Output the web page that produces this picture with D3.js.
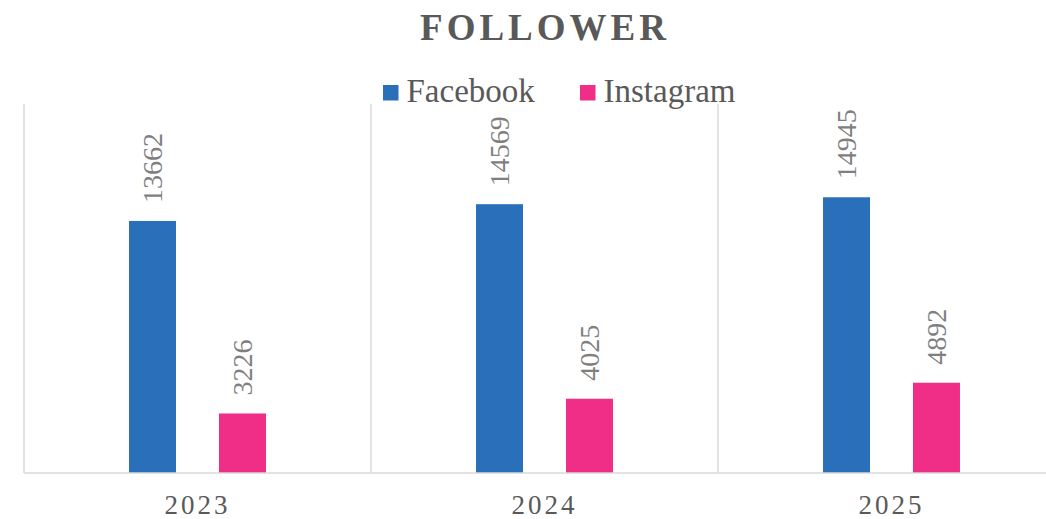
<!DOCTYPE html>
<html>
<head>
<meta charset="utf-8">
<script src="https://cdn.jsdelivr.net/npm/d3@7"></script>
<style>
  html, body { margin: 0; padding: 0; background: #fff; }
  svg { display: block; }
  svg text { font-family: "Liberation Serif", "DejaVu Serif", serif !important; }
</style>
</head>
<body>
<svg id="chart" width="1046" height="519"></svg>
<script>
const title = "FOLLOWER";
const categories = ["2023", "2024", "2025"];
const seriesNames = ["Facebook", "Instagram"];
const facebook = [13662, 14569, 14945];
const instagram = [3226, 4025, 4892];
const colors = ["#2a6fba", "#f02e87"];
const yMax = 20000;

const SERIF = '"Liberation Serif", "DejaVu Serif", serif';
const seriesValues = [facebook, instagram];
const svg = d3.select("#chart");

const plotLeft = 24, plotRight = 1065, plotTop = 104, plotBottom = 473;

const x0 = d3.scaleBand().domain(categories).range([plotLeft, plotRight]).padding(0);
const x1 = d3.scaleBand().domain(seriesNames).range([0, x0.bandwidth()])
  .paddingInner(0.478).paddingOuter(1.167);
const y = d3.scaleLinear().domain([0, yMax]).range([plotBottom, plotTop]);
const color = d3.scaleOrdinal().domain(seriesNames).range(colors);

// vertical category separators
const bounds = categories.map(c => x0(c)).concat([plotRight]);
svg.append("g").selectAll("line").data(bounds).join("line")
  .attr("x1", d => d).attr("x2", d => d)
  .attr("y1", plotTop).attr("y2", plotBottom)
  .attr("stroke", "#d9d9d9").attr("stroke-width", 1.5);

// bars
const data = [];
categories.forEach((c, i) => {
  seriesNames.forEach((s, j) => data.push({ cat: c, series: s, value: seriesValues[j][i] }));
});

svg.append("g").selectAll("rect").data(data).join("rect")
  .attr("x", d => x0(d.cat) + x1(d.series))
  .attr("y", d => y(d.value))
  .attr("width", x1.bandwidth())
  .attr("height", d => y(0) - y(d.value))
  .attr("fill", d => color(d.series));

// data labels (rotated)
svg.append("g").selectAll("text").data(data).join("text")
  .attr("transform", d => `translate(${x0(d.cat) + x1(d.series) + x1.bandwidth() / 2},${y(d.value) - 18}) rotate(-90)`)
  .attr("text-anchor", "start")
  .attr("dominant-baseline", "central")
  .style("font-family", SERIF)
  .attr("font-size", 28)
  .attr("fill", "#7f7f7f")
  .text(d => d.value);

// baseline axis
svg.append("line")
  .attr("x1", plotLeft).attr("x2", plotRight)
  .attr("y1", plotBottom).attr("y2", plotBottom)
  .attr("stroke", "#d9d9d9").attr("stroke-width", 1.5);

// category labels
const xAxis = d3.axisBottom(x0).tickSize(0).tickPadding(0);
const gx = svg.append("g").attr("transform", `translate(0,${plotBottom})`).call(xAxis)
  .attr("font-family", null);
gx.select(".domain").remove();
gx.selectAll("text")
  .attr("y", 41)
  .attr("dy", null)
  .attr("dx", 0)
  .style("font-family", SERIF)
  .attr("font-size", 27)
  .attr("letter-spacing", 3)
  .attr("fill", "#595959");

// title
svg.append("text")
  .attr("x", 545).attr("y", 40)
  .attr("text-anchor", "middle")
  .style("font-family", SERIF)
  .attr("font-size", 37)
  .attr("font-weight", "bold")
  .attr("letter-spacing", 4)
  .attr("fill", "#595959")
  .text(title);

// legend
const legendX = [383, 580];
const lg = svg.append("g").selectAll("g").data(seriesNames).join("g")
  .attr("transform", (d, i) => `translate(${legendX[i]},0)`);
lg.append("rect").attr("x", 0).attr("y", 85).attr("width", 15.5).attr("height", 15.5)
  .attr("fill", d => color(d));
lg.append("text").attr("x", 23.5).attr("y", 101.5)
  .style("font-family", SERIF)
  .attr("font-size", 33).attr("fill", "#595959")
  .text(d => d);
</script>
</body>
</html>
